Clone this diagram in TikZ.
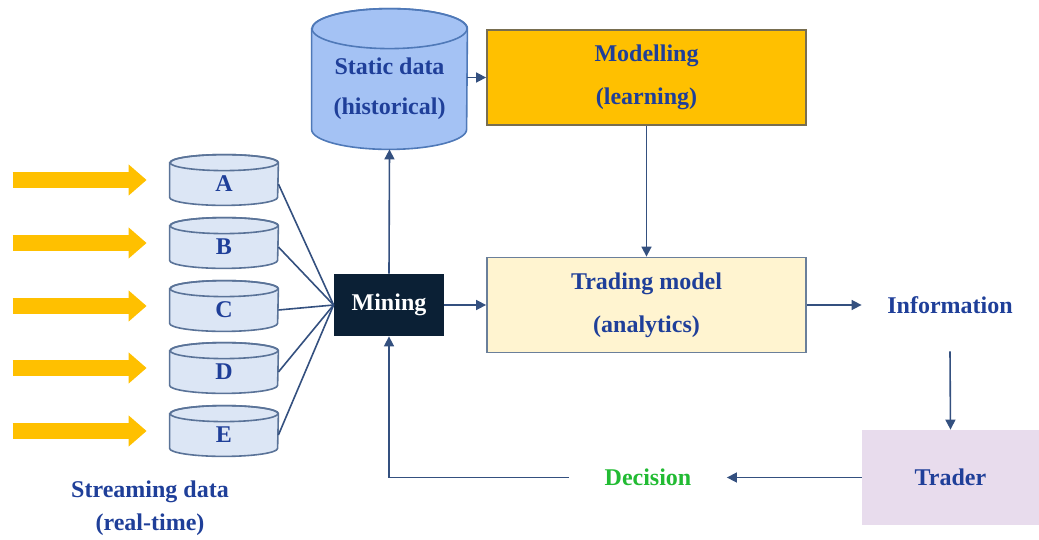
\documentclass[tikz,border=0pt]{standalone}
\usepackage{fontspec}
\setmainfont{Liberation Serif}
\usetikzlibrary{arrows.meta,backgrounds}
\definecolor{navy}{RGB}{31,63,153}
\definecolor{linkcol}{RGB}{52,80,127}
\definecolor{feedcol}{RGB}{255,192,0}
\definecolor{dbline}{RGB}{90,115,152}
\definecolor{dbfill}{RGB}{220,230,245}
\definecolor{bigfill}{RGB}{164,194,244}
\definecolor{bigline}{RGB}{79,121,184}
\definecolor{modline}{RGB}{120,110,80}
\definecolor{tradefill}{RGB}{255,244,208}
\definecolor{tradeline}{RGB}{106,127,154}
\definecolor{minefill}{RGB}{11,32,53}
\definecolor{traderfill}{RGB}{232,220,237}
\definecolor{decgreen}{RGB}{34,187,51}

\begin{document}
\begin{tikzpicture}[x=0.5pt,y=-0.5pt,
 lbl/.style={font=\bfseries\fontsize{12}{21.5}\selectfont,text=navy,align=center},
 box/.style={lbl,draw=tradeline,line width=0.9pt,minimum width=159.5pt,minimum height=47.5pt},
 db/.style={lbl,minimum width=54pt,minimum height=21pt},
 link/.style={draw=linkcol,line width=0.8pt},
 flow/.style={link,-{Triangle[length=5pt,width=5pt]}},
 feed/.style={draw=feedcol,line width=8pt,-{Triangle[length=9pt,width=15pt]}}]
 \useasboundingbox (0,0) rectangle (1039,540);

 % streaming sources
 \foreach \n/\y in {A/184,B/247,C/310,D/372,E/435}
  \node[db] (\n) at (224,\y) {\n};
 \foreach \n in {A,...,E}
  \draw[feed] ([xshift=-78.5pt,yshift=2pt]\n.west) -- ([xshift=-11.5pt,yshift=2pt]\n.west);
 \node[lbl,font=\bfseries\fontsize{12}{16.5}\selectfont] (stream) at (150,508) {Streaming data\\(real-time)};

 % main blocks
 \node[lbl,fill=minefill,text=white,minimum width=55pt,minimum height=31pt] (mining) at (389,305) {Mining};
 \node[lbl,minimum width=77.5pt,minimum height=60pt,font=\bfseries\fontsize{12}{20}\selectfont]
   (static) at (389.5,89) {Static data\\(historical)};
 \node[box,fill=feedcol,draw=modline] (model) at (646.5,77.5) {Modelling\\(learning)};
 \node[box,fill=tradefill] (trading) at (646.5,305) {Trading model\\(analytics)};
 \node[lbl,minimum width=88pt,minimum height=46pt] (info) at (950,305) {Information};
 \node[lbl,fill=traderfill,minimum width=88.5pt,minimum height=47.5pt] (trader) at (950.5,477.5) {Trader};
 \node[lbl,text=decgreen,minimum width=78.5pt] (decision) at (648,477.5) {Decision};

 % drums behind the labels
 \begin{pgfonlayer}{background}
  \foreach \n/\r/\h/\f/\d in {A/4/27/dbfill/dbline,B/4/27/dbfill/dbline,C/4/27/dbfill/dbline,
     D/4/27/dbfill/dbline,E/4/27/dbfill/dbline,static/10/38.75/bigfill/bigline}{
   \draw[fill=\f,draw=\d,line width=0.8pt] (\n.north west) -- ([yshift=\r pt]\n.south west)
     arc[start angle=180,end angle=360,x radius=\h pt,y radius=\r pt] -- (\n.north east)
     arc[start angle=0,end angle=180,x radius=\h pt,y radius=\r pt] -- cycle;
   \draw[draw=\d,line width=0.8pt] (\n.north) ellipse[x radius=\h pt,y radius=\r pt];
  }
 \end{pgfonlayer}

 % connectors
 \foreach \n in {A,...,E}
  \draw[link] (\n.east) -- (mining.west);
 \draw[flow] (mining.north) -- (static.south);
 \draw[flow] (static.east |- model.west) -- (model.west);
 \draw[flow] (model.south) -- (trading.north);
 \draw[flow] (mining.east) -- (trading.west);
 \draw[flow] (trading.east) -- (info.west);
 \draw[flow] (info.south) -- (trader.north);
 \draw[flow] (trader.west) -- (decision.east);
 \draw[flow] (decision.west) -| (mining.south);
\end{tikzpicture}
\end{document}
